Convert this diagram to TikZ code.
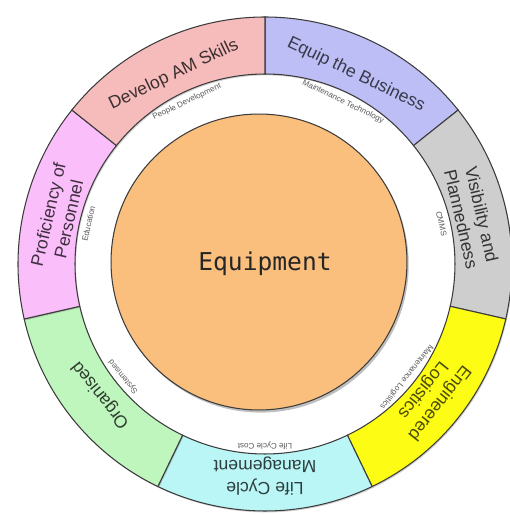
\documentclass[tikz,border=0pt]{standalone}
\usepackage{fontspec}
\setmainfont{Liberation Sans}
\newfontfamily\eqfont{DejaVu Sans Mono}
\usetikzlibrary{shadows}

\definecolor{devpink}{RGB}{246,188,188}
\definecolor{equipblue}{RGB}{190,190,246}
\definecolor{visgray}{RGB}{206,206,206}
\definecolor{engyellow}{RGB}{252,252,20}
\definecolor{lifecyan}{RGB}{186,246,246}
\definecolor{orggreen}{RGB}{190,246,190}
\definecolor{profpink}{RGB}{250,190,250}
\definecolor{eqorange}{RGB}{250,190,125}
\definecolor{edgegray}{RGB}{60,60,60}

\begin{document}
\begin{tikzpicture}[x=0.02cm,y=0.02cm,
    ringseg/.style={draw=edgegray,line width=0.6pt,
        drop shadow={shadow xshift=0.6pt,shadow yshift=-0.8pt,opacity=0.35}},
    bigtext/.style={font=\fontsize{10}{12}\selectfont,align=center},
    smalltext/.style={font=\fontsize{4.6}{5}\selectfont,text=black!65}]
\useasboundingbox (-265,-251) rectangle (245,264);

% ring parts
\draw[ringseg,fill=equipblue] (90:190) -- (90:247) arc[start angle=90,end angle=38.57,radius=247]
    -- (38.57:190) arc[start angle=38.57,end angle=90,radius=190] -- cycle;
\draw[ringseg,fill=visgray] (38.57:190) -- (38.57:247) arc[start angle=38.57,end angle=-12.86,radius=247]
    -- (-12.86:190) arc[start angle=-12.86,end angle=38.57,radius=190] -- cycle;
\draw[ringseg,fill=engyellow] (-12.86:190) -- (-12.86:247) arc[start angle=-12.86,end angle=-64.29,radius=247]
    -- (-64.29:190) arc[start angle=-64.29,end angle=-12.86,radius=190] -- cycle;
\draw[ringseg,fill=lifecyan] (-64.29:190) -- (-64.29:247) arc[start angle=-64.29,end angle=-115.71,radius=247]
    -- (-115.71:190) arc[start angle=-115.71,end angle=-64.29,radius=190] -- cycle;
\draw[ringseg,fill=orggreen] (-115.71:190) -- (-115.71:247) arc[start angle=-115.71,end angle=-167.14,radius=247]
    -- (-167.14:190) arc[start angle=-167.14,end angle=-115.71,radius=190] -- cycle;
\draw[ringseg,fill=profpink] (192.86:190) -- (192.86:247) arc[start angle=192.86,end angle=141.43,radius=247]
    -- (141.43:190) arc[start angle=141.43,end angle=192.86,radius=190] -- cycle;
\draw[ringseg,fill=devpink] (141.43:190) -- (141.43:247) arc[start angle=141.43,end angle=90,radius=247]
    -- (90:190) arc[start angle=90,end angle=141.43,radius=190] -- cycle;

% centre
\node[circle,draw=edgegray,line width=0.6pt,fill=eqorange,minimum size=5.92cm,inner sep=0pt,
    drop shadow={shadow xshift=1pt,shadow yshift=-1.5pt,opacity=0.5}] (equip) at (-6,2) {};
\node[font=\eqfont\fontsize{14}{16}\selectfont,text=black!85] (eqlabel) at (0,0) {Equipment};

% big labels
\node[bigtext,rotate=25.71,text=devpink!25!black] (dev) at (115.71:210) {Develop AM Skills};
\node[bigtext,rotate=-25.71,text=equipblue!30!black] (bus) at (64.29:210) {Equip the Business};
\node[bigtext,rotate=-77.14,text=visgray!25!black] (vis) at (12.86:212) {Visibility and\\Plannedness};
\node[bigtext,rotate=-128.57,text=engyellow!30!black] (eng) at (-38.57:212) {Engineered\\Logistics};
\node[bigtext,rotate=180,text=lifecyan!25!black] (life) at (-90:212) {Life Cycle\\Management};
\node[bigtext,rotate=128.57,text=orggreen!25!black] (org) at (-141.43:210) {Organised};
\node[bigtext,rotate=77.14,text=profpink!25!black] (prof) at (167.14:212) {Proficiency of\\Personnel};

% small labels
\node[smalltext,rotate=25.71] (people) at (115.71:180) {People Development};
\node[smalltext,rotate=-25.71] (tech) at (64.29:180) {Maintenance Technology};
\node[smalltext,rotate=-77.14] (cmms) at (12.86:181) {CMMS};
\node[smalltext,rotate=-128.57] (logist) at (-38.57:181) {Maintenance Logistics};
\node[smalltext,rotate=180] (lcc) at (-90:182) {Life Cycle Cost};
\node[smalltext,rotate=128.57] (sys) at (-141.43:181) {Systemised};
\node[smalltext,rotate=77.14] (edu) at (167.14:181) {Education};
\end{tikzpicture}
\end{document}
